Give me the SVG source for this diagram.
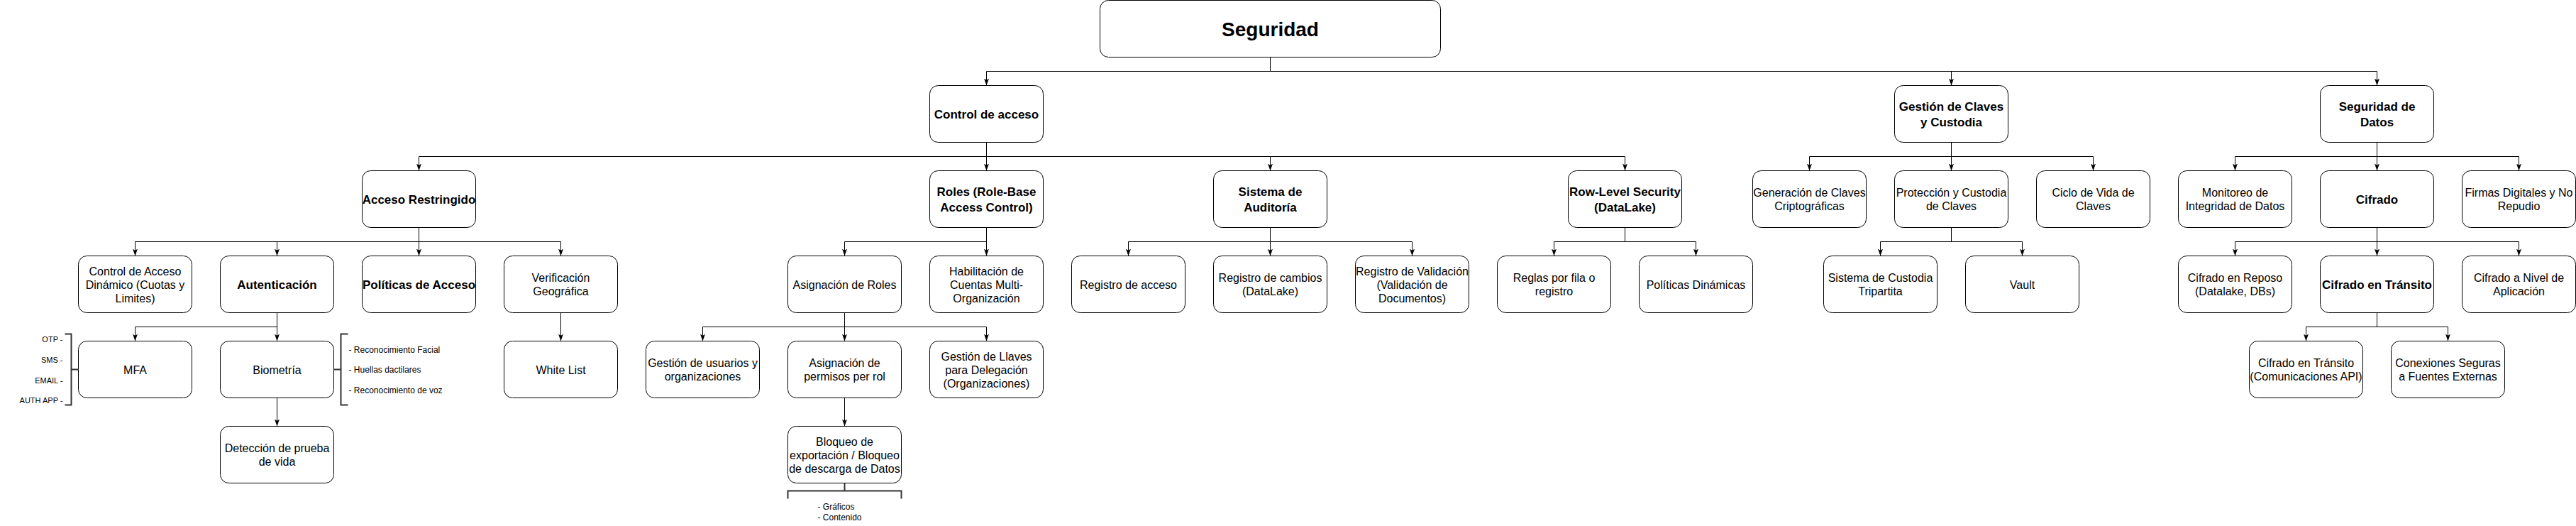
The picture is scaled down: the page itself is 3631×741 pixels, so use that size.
<svg xmlns="http://www.w3.org/2000/svg" width="3631" height="741" viewBox="0 0 3631 741">
<style>
.box{fill:#fff;stroke:#000;stroke-width:1}
.t{font-family:"Liberation Sans",Arial,Helvetica,sans-serif;font-size:16px;text-anchor:middle;fill:#000}
.b{font-weight:bold;font-size:17px}
.h{font-weight:bold;font-size:28px}
.s{font-family:"Liberation Sans",Arial,Helvetica,sans-serif;font-size:12px;fill:#000}
.e{fill:none;stroke:#000;stroke-width:1}
.br{fill:none;stroke:#333;stroke-width:2}
</style>
<defs>
<marker id="arr" viewBox="0 0 10 7" refX="10" refY="3.5" markerWidth="10" markerHeight="7" markerUnits="userSpaceOnUse" orient="auto">
<path d="M0,0 L10,3.5 L0,7 L2.5,3.5 Z" fill="#000"/>
</marker>
</defs>
<rect x="0" y="0" width="3631" height="741" fill="#fff"/>
<g transform="translate(0.5,0.5)">
<g id="connectors">
<path class="e" marker-end="url(#arr)" d="M1790,80 V100 H1390 V120"/>
<path class="e" marker-end="url(#arr)" d="M1790,80 V100 H2750 V120"/>
<path class="e" marker-end="url(#arr)" d="M1790,80 V100 H3350 V120"/>
<path class="e" marker-end="url(#arr)" d="M1390,200 V220 H590 V240"/>
<path class="e" marker-end="url(#arr)" d="M1390,200 V240"/>
<path class="e" marker-end="url(#arr)" d="M1390,200 V220 H1790 V240"/>
<path class="e" marker-end="url(#arr)" d="M1390,200 V220 H2290 V240"/>
<path class="e" marker-end="url(#arr)" d="M2750,200 V220 H2550 V240"/>
<path class="e" marker-end="url(#arr)" d="M2750,200 V240"/>
<path class="e" marker-end="url(#arr)" d="M2750,200 V220 H2950 V240"/>
<path class="e" marker-end="url(#arr)" d="M3350,200 V220 H3150 V240"/>
<path class="e" marker-end="url(#arr)" d="M3350,200 V240"/>
<path class="e" marker-end="url(#arr)" d="M3350,200 V220 H3550 V240"/>
<path class="e" marker-end="url(#arr)" d="M590,320 V340 H190 V360"/>
<path class="e" marker-end="url(#arr)" d="M590,320 V340 H390 V360"/>
<path class="e" marker-end="url(#arr)" d="M590,320 V360"/>
<path class="e" marker-end="url(#arr)" d="M590,320 V340 H790 V360"/>
<path class="e" marker-end="url(#arr)" d="M1390,320 V340 H1190 V360"/>
<path class="e" marker-end="url(#arr)" d="M1390,320 V360"/>
<path class="e" marker-end="url(#arr)" d="M1790,320 V340 H1590 V360"/>
<path class="e" marker-end="url(#arr)" d="M1790,320 V360"/>
<path class="e" marker-end="url(#arr)" d="M1790,320 V340 H1990 V360"/>
<path class="e" marker-end="url(#arr)" d="M2290,320 V340 H2190 V360"/>
<path class="e" marker-end="url(#arr)" d="M2290,320 V340 H2390 V360"/>
<path class="e" marker-end="url(#arr)" d="M2750,320 V340 H2650 V360"/>
<path class="e" marker-end="url(#arr)" d="M2750,320 V340 H2850 V360"/>
<path class="e" marker-end="url(#arr)" d="M3350,320 V340 H3150 V360"/>
<path class="e" marker-end="url(#arr)" d="M3350,320 V360"/>
<path class="e" marker-end="url(#arr)" d="M3350,320 V340 H3550 V360"/>
<path class="e" marker-end="url(#arr)" d="M390,440 V460 H190 V480"/>
<path class="e" marker-end="url(#arr)" d="M390,440 V480"/>
<path class="e" marker-end="url(#arr)" d="M790,440 V480"/>
<path class="e" marker-end="url(#arr)" d="M1190,440 V460 H990 V480"/>
<path class="e" marker-end="url(#arr)" d="M1190,440 V480"/>
<path class="e" marker-end="url(#arr)" d="M1190,440 V460 H1390 V480"/>
<path class="e" marker-end="url(#arr)" d="M3350,440 V460 H3250 V480"/>
<path class="e" marker-end="url(#arr)" d="M3350,440 V460 H3450 V480"/>
<path class="e" marker-end="url(#arr)" d="M390,560 V600"/>
<path class="e" marker-end="url(#arr)" d="M1190,560 V600"/>
</g>

<g id="n-seguridad"><rect class="box" x="1550" y="0" width="480" height="80" rx="12"/><text class="t h" x="1790" y="50">Seguridad</text></g>

<g id="n-control"><rect class="box" x="1310" y="120" width="160" height="80" rx="12"/><text class="t b" x="1390" y="166">Control de acceso</text></g>
<g id="n-claves"><rect class="box" x="2670" y="120" width="160" height="80" rx="12"/><text class="t b"><tspan x="2750" y="155">Gestión de Claves</tspan><tspan x="2750" y="177">y Custodia</tspan></text></g>
<g id="n-datos"><rect class="box" x="3270" y="120" width="160" height="80" rx="12"/><text class="t b"><tspan x="3350" y="155">Seguridad de</tspan><tspan x="3350" y="177">Datos</tspan></text></g>

<g id="n-acceso"><rect class="box" x="510" y="240" width="160" height="80" rx="12"/><text class="t b" x="590" y="286">Acceso Restringido</text></g>
<g id="n-roles"><rect class="box" x="1310" y="240" width="160" height="80" rx="12"/><text class="t b"><tspan x="1390" y="275">Roles (Role-Base</tspan><tspan x="1390" y="297">Access Control)</tspan></text></g>
<g id="n-auditoria"><rect class="box" x="1710" y="240" width="160" height="80" rx="12"/><text class="t b"><tspan x="1790" y="275">Sistema de</tspan><tspan x="1790" y="297">Auditoría</tspan></text></g>
<g id="n-rls"><rect class="box" x="2210" y="240" width="160" height="80" rx="12"/><text class="t b"><tspan x="2290" y="275">Row-Level Security</tspan><tspan x="2290" y="297">(DataLake)</tspan></text></g>
<g id="n-generacion"><rect class="box" x="2470" y="240" width="160" height="80" rx="12"/><text class="t"><tspan x="2550" y="276.5">Generación de Claves</tspan><tspan x="2550" y="295.5">Criptográficas</tspan></text></g>
<g id="n-proteccion"><rect class="box" x="2670" y="240" width="160" height="80" rx="12"/><text class="t"><tspan x="2750" y="276.5">Protección y Custodia</tspan><tspan x="2750" y="295.5">de Claves</tspan></text></g>
<g id="n-ciclo"><rect class="box" x="2870" y="240" width="160" height="80" rx="12"/><text class="t"><tspan x="2950" y="276.5">Ciclo de Vida de</tspan><tspan x="2950" y="295.5">Claves</tspan></text></g>
<g id="n-monitoreo"><rect class="box" x="3070" y="240" width="160" height="80" rx="12"/><text class="t"><tspan x="3150" y="276.5">Monitoreo de</tspan><tspan x="3150" y="295.5">Integridad de Datos</tspan></text></g>
<g id="n-cifrado"><rect class="box" x="3270" y="240" width="160" height="80" rx="12"/><text class="t b" x="3350" y="286">Cifrado</text></g>
<g id="n-firmas"><rect class="box" x="3470" y="240" width="160" height="80" rx="12"/><text class="t"><tspan x="3550" y="276.5">Firmas Digitales y No</tspan><tspan x="3550" y="295.5">Repudio</tspan></text></g>

<g id="n-dinamico"><rect class="box" x="110" y="360" width="160" height="80" rx="12"/><text class="t"><tspan x="190" y="387">Control de Acceso</tspan><tspan x="190" y="406">Dinámico (Cuotas y</tspan><tspan x="190" y="425">Limites)</tspan></text></g>
<g id="n-autenticacion"><rect class="box" x="310" y="360" width="160" height="80" rx="12"/><text class="t b" x="390" y="406">Autenticación</text></g>
<g id="n-politicas"><rect class="box" x="510" y="360" width="160" height="80" rx="12"/><text class="t b" x="590" y="406">Políticas de Acceso</text></g>
<g id="n-verificacion"><rect class="box" x="710" y="360" width="160" height="80" rx="12"/><text class="t"><tspan x="790" y="396.5">Verificación</tspan><tspan x="790" y="415.5">Geográfica</tspan></text></g>
<g id="n-asigroles"><rect class="box" x="1110" y="360" width="160" height="80" rx="12"/><text class="t" x="1190" y="406">Asignación de Roles</text></g>
<g id="n-habilitacion"><rect class="box" x="1310" y="360" width="160" height="80" rx="12"/><text class="t"><tspan x="1390" y="387">Habilitación de</tspan><tspan x="1390" y="406">Cuentas Multi-</tspan><tspan x="1390" y="425">Organización</tspan></text></g>
<g id="n-regacceso"><rect class="box" x="1510" y="360" width="160" height="80" rx="12"/><text class="t" x="1590" y="406">Registro de acceso</text></g>
<g id="n-regcambios"><rect class="box" x="1710" y="360" width="160" height="80" rx="12"/><text class="t"><tspan x="1790" y="396.5">Registro de cambios</tspan><tspan x="1790" y="415.5">(DataLake)</tspan></text></g>
<g id="n-regvalidacion"><rect class="box" x="1910" y="360" width="160" height="80" rx="12"/><text class="t"><tspan x="1990" y="387">Registro de Validación</tspan><tspan x="1990" y="406">(Validación de</tspan><tspan x="1990" y="425">Documentos)</tspan></text></g>
<g id="n-reglas"><rect class="box" x="2110" y="360" width="160" height="80" rx="12"/><text class="t"><tspan x="2190" y="396.5">Reglas por fila o</tspan><tspan x="2190" y="415.5">registro</tspan></text></g>
<g id="n-poldinamicas"><rect class="box" x="2310" y="360" width="160" height="80" rx="12"/><text class="t" x="2390" y="406">Políticas Dinámicas</text></g>
<g id="n-custodia"><rect class="box" x="2570" y="360" width="160" height="80" rx="12"/><text class="t"><tspan x="2650" y="396.5">Sistema de Custodia</tspan><tspan x="2650" y="415.5">Tripartita</tspan></text></g>
<g id="n-vault"><rect class="box" x="2770" y="360" width="160" height="80" rx="12"/><text class="t" x="2850" y="406">Vault</text></g>
<g id="n-reposo"><rect class="box" x="3070" y="360" width="160" height="80" rx="12"/><text class="t"><tspan x="3150" y="396.5">Cifrado en Reposo</tspan><tspan x="3150" y="415.5">(Datalake, DBs)</tspan></text></g>
<g id="n-transito"><rect class="box" x="3270" y="360" width="160" height="80" rx="12"/><text class="t b" x="3350" y="406">Cifrado en Tránsito</text></g>
<g id="n-nivelapp"><rect class="box" x="3470" y="360" width="160" height="80" rx="12"/><text class="t"><tspan x="3550" y="396.5">Cifrado a Nivel de</tspan><tspan x="3550" y="415.5">Aplicación</tspan></text></g>

<g id="n-mfa"><rect class="box" x="110" y="480" width="160" height="80" rx="12"/><text class="t" x="190" y="526">MFA</text></g>
<g id="n-biometria"><rect class="box" x="310" y="480" width="160" height="80" rx="12"/><text class="t" x="390" y="526">Biometría</text></g>
<g id="n-whitelist"><rect class="box" x="710" y="480" width="160" height="80" rx="12"/><text class="t" x="790" y="526">White List</text></g>
<g id="n-gestusuarios"><rect class="box" x="910" y="480" width="160" height="80" rx="12"/><text class="t"><tspan x="990" y="516.5">Gestión de usuarios y</tspan><tspan x="990" y="535.5">organizaciones</tspan></text></g>
<g id="n-asigpermisos"><rect class="box" x="1110" y="480" width="160" height="80" rx="12"/><text class="t"><tspan x="1190" y="516.5">Asignación de</tspan><tspan x="1190" y="535.5">permisos per rol</tspan></text></g>
<g id="n-llaves"><rect class="box" x="1310" y="480" width="160" height="80" rx="12"/><text class="t"><tspan x="1390" y="507">Gestión de Llaves</tspan><tspan x="1390" y="526">para Delegación</tspan><tspan x="1390" y="545">(Organizaciones)</tspan></text></g>
<g id="n-transapi"><rect class="box" x="3170" y="480" width="160" height="80" rx="12"/><text class="t"><tspan x="3250" y="516.5">Cifrado en Tránsito</tspan><tspan x="3250" y="535.5">(Comunicaciones API)</tspan></text></g>
<g id="n-conexiones"><rect class="box" x="3370" y="480" width="160" height="80" rx="12"/><text class="t"><tspan x="3450" y="516.5">Conexiones Seguras</tspan><tspan x="3450" y="535.5">a Fuentes Externas</tspan></text></g>

<g id="n-deteccion"><rect class="box" x="310" y="600" width="160" height="80" rx="12"/><text class="t"><tspan x="390" y="636.5">Detección de prueba</tspan><tspan x="390" y="655.5">de vida</tspan></text></g>
<g id="n-bloqueo"><rect class="box" x="1110" y="600" width="160" height="80" rx="12"/><text class="t"><tspan x="1190" y="627">Bloqueo de</tspan><tspan x="1190" y="646">exportación / Bloqueo</tspan><tspan x="1190" y="665">de descarga de Datos</tspan></text></g>

<g id="n-mfa-list">
<path class="br" d="M91,470 H100 V570 H91 M100,520 H110"/>
<text class="s" style="font-size:11px" text-anchor="end"><tspan x="88" y="481">OTP -</tspan><tspan x="88" y="510">SMS -</tspan><tspan x="88" y="539">EMAIL -</tspan><tspan x="88" y="567">AUTH APP -</tspan></text>
</g>
<g id="n-bio-list">
<path class="br" d="M490,470 H480 V570 H490 M470,520 H480"/>
<text class="s"><tspan x="491" y="496">- Reconocimiento Facial</tspan><tspan x="491" y="524">- Huellas dactilares</tspan><tspan x="491" y="553">- Reconocimiento de voz</tspan></text>
</g>
<g id="n-bloqueo-list">
<path class="br" d="M1110,702 V691 H1270 V702 M1190,680 V691"/>
<text class="s"><tspan x="1152" y="717">- Gráficos</tspan><tspan x="1152" y="732">- Contenido</tspan></text>
</g>
</g>
</svg>
